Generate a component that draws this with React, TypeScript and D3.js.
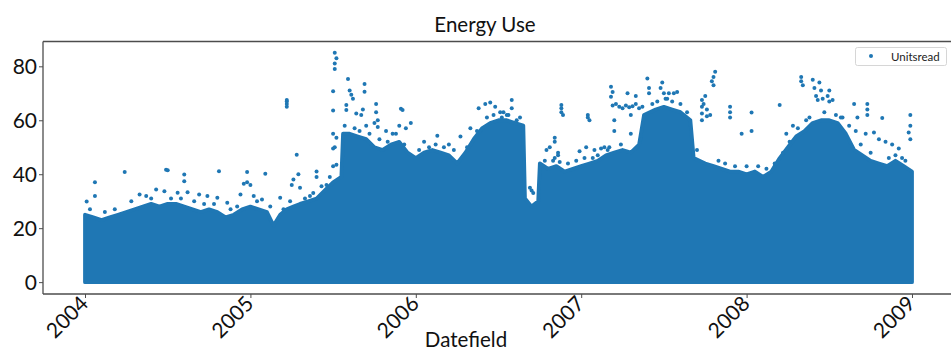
import React, { useRef, useEffect } from "react";
import * as d3 from "d3";

// upper edge of the solid mass of readings (decimal year, units)
const massYears = [
  2004.0, 2004.05, 2004.1, 2004.15, 2004.2, 2004.25, 2004.3, 2004.35, 2004.4, 2004.45,
  2004.5, 2004.55, 2004.6, 2004.65, 2004.7, 2004.75, 2004.8, 2004.85, 2004.9, 2004.95,
  2005.0, 2005.05, 2005.1, 2005.14, 2005.18, 2005.22, 2005.26, 2005.3, 2005.35, 2005.4,
  2005.45, 2005.5, 2005.55, 2005.56, 2005.6, 2005.65, 2005.7, 2005.75, 2005.8, 2005.85,
  2005.9, 2005.95, 2006.0, 2006.05, 2006.1, 2006.15, 2006.2, 2006.25, 2006.3, 2006.35,
  2006.4, 2006.45, 2006.5, 2006.55, 2006.6, 2006.65, 2006.66, 2006.7, 2006.74, 2006.75,
  2006.8, 2006.85, 2006.9, 2006.95, 2007.0, 2007.05, 2007.1, 2007.15, 2007.2, 2007.25,
  2007.3, 2007.35, 2007.38, 2007.45, 2007.5, 2007.55, 2007.6, 2007.66, 2007.68, 2007.75,
  2007.8, 2007.85, 2007.9, 2007.95, 2008.0, 2008.05, 2008.1, 2008.15, 2008.2, 2008.25,
  2008.3, 2008.35, 2008.4, 2008.45, 2008.5, 2008.55, 2008.6, 2008.65, 2008.7, 2008.75,
  2008.8, 2008.85, 2008.9, 2008.95, 2009.0,
];
const massTop = [
  25, 24, 23, 24, 25, 26, 27, 28, 29, 28,
  29, 29, 28, 27, 26, 27, 26, 24, 25, 27,
  28, 27, 26, 21, 25, 27, 28, 29, 30, 31,
  34, 37, 39, 55, 55, 54, 53, 50, 49, 51,
  52, 48, 46, 48, 49, 48, 47, 44, 48, 53,
  57, 59, 60, 60, 59, 58, 31, 28, 30, 44,
  42, 43, 41, 42, 43, 44, 45, 47, 48, 49,
  48, 51, 62, 64, 65, 64, 63, 60, 46, 44,
  43, 42, 41, 41, 40, 41, 39, 41, 46, 50,
  54, 56, 59, 60, 60, 59, 55, 49, 47, 45,
  44, 43, 45, 43, 41,
];

// scattered readings above the mass
const outYears = [
  2004.06, 2004.06, 2004.01, 2004.24, 2004.49, 2004.5, 2004.6, 2004.6, 2004.81, 2004.98,
  2005.09, 2004.96, 2004.98, 2005.0, 2005.22, 2005.22, 2005.22, 2005.22, 2005.28, 2005.26,
  2005.29, 2005.25, 2005.3, 2005.4, 2005.4, 2005.51, 2005.52, 2005.51, 2005.51, 2005.5,
  2005.5, 2005.5, 2005.52, 2005.5, 2005.51, 2005.5, 2005.52, 2005.59, 2005.6, 2005.61,
  2005.62, 2005.69, 2005.69, 2005.58, 2005.58, 2005.64, 2005.67, 2005.68, 2005.76, 2005.76,
  2005.77, 2005.77, 2005.75, 2005.91, 2005.92, 2005.9, 2005.94, 2005.97, 2006.13, 2006.27,
  2006.38, 2006.42, 2006.45, 2006.48, 2006.58, 2006.58, 2006.53, 2006.61, 2006.69, 2006.71,
  2006.7, 2006.84, 2006.84, 2006.88, 2006.88, 2006.88, 2006.89, 2007.04, 2007.04, 2007.05,
  2006.79, 2006.81, 2006.86, 2006.84, 2006.87, 2006.83, 2006.86, 2006.99, 2007.03, 2007.08,
  2007.12, 2007.14, 2007.17, 2007.18, 2007.19, 2007.18, 2007.19, 2007.21, 2007.23, 2007.25,
  2007.27, 2007.29, 2007.31, 2007.33, 2007.35, 2007.37, 2007.2, 2007.2, 2007.3, 2007.3,
  2007.33, 2007.28, 2007.4, 2007.41, 2007.41, 2007.49, 2007.48, 2007.5, 2007.53, 2007.51,
  2007.56, 2007.58, 2007.81, 2007.8, 2007.79, 2007.8, 2007.73, 2007.73, 2007.73, 2007.73,
  2007.75, 2007.74, 2007.76, 2007.76, 2007.78, 2007.9, 2007.9, 2007.9, 2008.03, 2008.2,
  2007.97, 2008.03, 2008.33, 2008.33, 2008.34, 2008.4, 2008.41, 2008.42, 2008.44, 2008.45,
  2008.43, 2008.46, 2008.5, 2008.49, 2008.5, 2008.52, 2008.65, 2008.67, 2008.73, 2008.73,
  2008.73, 2008.82, 2008.99, 2008.99, 2008.99, 2008.98, 2008.66, 2008.72, 2008.77, 2008.8,
  2008.84, 2008.88, 2008.92, 2004.33, 2004.37, 2004.43, 2004.48, 2004.56, 2004.62, 2004.69,
  2004.74, 2004.8, 2004.86, 2004.94, 2005.02, 2005.07, 2005.18, 2005.36, 2005.43, 2005.7,
  2005.82, 2005.86, 2006.05, 2006.2, 2006.33, 2006.52, 2006.56, 2008.24, 2008.28, 2008.58,
  // points hugging the top of the mass
  2004.03, 2004.12, 2004.18, 2004.28, 2004.4, 2004.52, 2004.58, 2004.66, 2004.72, 2004.78,
  2004.88, 2004.92, 2005.04, 2005.12, 2005.2, 2005.24, 2005.33, 2005.38, 2005.46, 2005.48,
  2005.57, 2005.63, 2005.66, 2005.72, 2005.78, 2005.83, 2005.88, 2005.93, 2006.02, 2006.08,
  2006.12, 2006.17, 2006.23, 2006.31, 2006.37, 2006.43, 2006.47, 2006.51, 2006.55, 2006.63,
  2006.78, 2006.92, 2006.97, 2007.02, 2007.07, 2007.1, 2007.16, 2007.24, 2007.36, 2007.43,
  2007.46, 2007.52, 2007.55, 2007.6, 2007.64, 2007.7, 2007.83, 2007.87, 2007.93, 2008.0,
  2008.07, 2008.12, 2008.17, 2008.22, 2008.26, 2008.31, 2008.36, 2008.38, 2008.47, 2008.54,
  2008.57, 2008.62, 2008.69, 2008.75, 2008.86, 2008.9, 2008.94, 2008.96,
];
const outValues = [
  37, 31.9, 29.9, 40.8, 41.7, 41.5, 39.9, 37.4, 41.1, 40.8,
  40.2, 36.5, 37, 36, 65, 66, 67, 67.5, 47.2, 38,
  40, 36, 35, 41, 39, 85, 83, 81, 79, 70.8,
  63.6, 55, 53.5, 49.5, 50, 43, 43.5, 75.3, 71, 69.5,
  68, 73.4, 70.6, 65.7, 63.8, 62.5, 62, 64, 66, 63,
  60, 57.5, 59, 64.3, 63.8, 58, 57, 59, 54.3, 54,
  64.5, 66, 66.6, 65, 67.5, 64.5, 63, 60, 35, 33,
  34, 53.5, 52, 65.7, 64.5, 63, 62, 62, 61, 60,
  49, 50, 48, 46, 44.5, 45, 47, 48.5, 50, 49,
  49.5, 50, 50, 72.4, 70.5, 68.7, 65.5, 66, 65, 64.5,
  65.5, 64.8, 65.2, 66, 64.5, 65, 60, 56, 62, 55,
  69, 70, 75.5, 72, 70, 74, 72, 70, 70, 68,
  70, 70.5, 78, 76, 74.5, 73, 67.5, 65, 62.5, 60,
  69, 66, 64, 61.5, 62, 65, 63, 61, 62.9, 65.7,
  55, 56, 76, 74.5, 73, 75, 72, 69, 74, 71,
  67.5, 68, 71, 69, 67, 67.5, 66, 61, 66, 64,
  62, 60.8, 62, 58, 53, 55.5, 56, 55, 55.5, 53,
  52, 51, 49.5, 32.5, 31.9, 34.3, 33.7, 33.1, 33.3, 32.5,
  31.9, 31.3, 29.4, 32.5, 31.9, 30.6, 31.3, 31.9, 35.5, 58,
  56, 55, 52, 51, 57, 61, 62, 55, 58, 61,
  27, 26, 27, 30, 31, 31, 31, 30, 29, 29,
  27, 28, 30, 28, 27, 30, 31, 33, 36, 39,
  58, 57, 56, 55, 53, 52, 55, 51, 49, 50,
  51, 50, 49, 50, 56, 61, 62, 63, 62, 61,
  45, 44, 45, 46, 46, 47, 49, 51, 53, 66,
  67, 68, 67, 66, 63, 49, 45, 44, 43, 43,
  43, 42, 44, 48, 52, 57, 60, 61, 63, 62,
  61, 58, 51, 48, 46, 47, 46, 45,
];

const yTicks = [0, 20, 40, 60, 80];
const xTicks = [2004, 2005, 2006, 2007, 2008, 2009];

const App = () => {
  const ref = useRef(null);
  const width = 951;
  const height = 351;
  const margin = { top: 41.5, bottom: 57, left: 43, right: -4 };
  const blue = "#1f77b4";
  const font = "Lato, 'Open Sans', sans-serif";

  useEffect(() => {
    const svg = d3.select(ref.current);
    svg.selectAll("*").remove();

    const x = d3
      .scaleLinear()
      .domain([2003.746, 2009.26])
      .range([margin.left, width - margin.right]);
    const y = d3
      .scaleLinear()
      .domain([-4.4, 89.2])
      .range([height - margin.bottom, margin.top]);

    // solid mass of readings from 0 up to its upper edge
    const mass = massYears.map((yr, i) => ({ yr, v: massTop[i] }));
    const area = d3
      .area()
      .x((d) => x(d.yr))
      .y0(y(0))
      .y1((d) => y(d.v));
    svg
      .append("path")
      .attr("d", area(mass))
      .attr("fill", blue)
      .attr("stroke", blue)
      .attr("stroke-width", 3.8)
      .attr("stroke-linejoin", "round");

    svg
      .selectAll(".dot")
      .data(outYears.map((yr, i) => ({ yr, v: outValues[i] })))
      .enter()
      .append("circle")
      .attr("cx", (d) => x(d.yr))
      .attr("cy", (d) => y(d.v))
      .attr("r", 2)
      .attr("fill", blue);

    // spines
    const sp = svg.append("g").attr("stroke", "#4d4d4d").attr("stroke-width", 1.3);
    sp.append("line").attr("x1", margin.left).attr("x2", width).attr("y1", margin.top).attr("y2", margin.top);
    sp.append("line").attr("x1", margin.left).attr("x2", margin.left).attr("y1", margin.top).attr("y2", height - margin.bottom);
    sp.append("line").attr("x1", margin.left).attr("x2", width).attr("y1", height - margin.bottom).attr("y2", height - margin.bottom);

    const yAxis = svg
      .append("g")
      .attr("transform", `translate(${margin.left},0)`)
      .call(d3.axisLeft(y).tickValues(yTicks).tickSize(4).tickPadding(2));
    yAxis.select(".domain").remove();
    yAxis.selectAll("line").attr("stroke", "#4d4d4d");
    yAxis.selectAll("text").attr("font-size", 21).attr("font-family", font).attr("fill", "#111").attr("dy", "0.36em");

    const xAxis = svg
      .append("g")
      .attr("transform", `translate(0,${height - margin.bottom})`)
      .call(d3.axisBottom(x).tickValues(xTicks).tickFormat(d3.format("d")).tickSize(4));
    xAxis.select(".domain").remove();
    xAxis.selectAll("line").attr("stroke", "#4d4d4d");
    xAxis
      .selectAll("text")
      .attr("font-size", 21)
      .attr("font-family", font)
      .attr("fill", "#111")
      .attr("text-anchor", "end")
      .attr("x", 0)
      .attr("y", 0)
      .attr("dy", 0)
      .attr("transform", "translate(4,11) rotate(-45)");

    svg
      .append("text")
      .attr("x", 485)
      .attr("y", 32)
      .attr("text-anchor", "middle")
      .attr("font-family", font)
      .attr("font-size", 20.5)
      .attr("fill", "#111")
      .text("Energy Use");

    svg
      .append("text")
      .attr("x", 466)
      .attr("y", 347)
      .attr("text-anchor", "middle")
      .attr("font-family", font)
      .attr("font-size", 20.5)
      .attr("fill", "#111")
      .text("Datefield");

    // legend
    const lg = svg.append("g");
    lg.append("rect")
      .attr("x", 855.5)
      .attr("y", 47.5)
      .attr("width", 91)
      .attr("height", 18)
      .attr("rx", 2)
      .attr("fill", "#fff")
      .attr("stroke", "#d6d6d6");
    lg.append("circle").attr("cx", 871).attr("cy", 56).attr("r", 2).attr("fill", blue);
    lg.append("text")
      .attr("x", 891)
      .attr("y", 60.5)
      .attr("font-family", font)
      .attr("font-size", 11.5)
      .attr("fill", "#222")
      .text("Unitsread");
  }, []);

  return (
    <svg
      ref={ref}
      width={width}
      height={height}
      style={{ position: "absolute", left: 0, top: 0, background: "#fff" }}
    ></svg>
  );
};

export default App;
